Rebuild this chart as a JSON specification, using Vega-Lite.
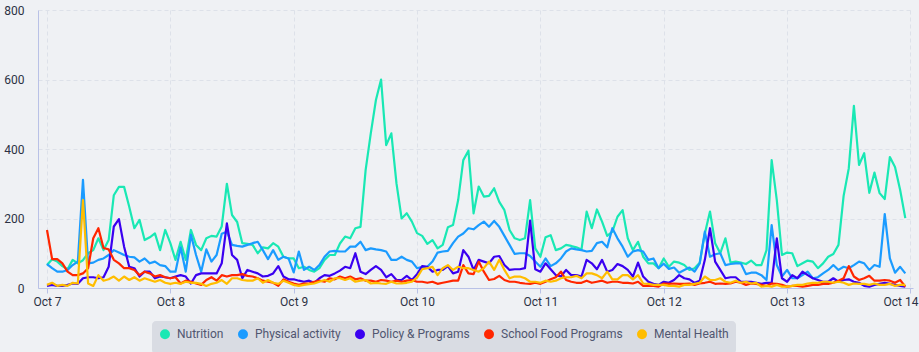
{
"$schema":"https://vega.github.io/schema/vega-lite/v6.json",
"width":875,"height":278,
"autosize":{"type":"none"},
"padding":{"left":38,"top":10,"right":6,"bottom":64},
"background":"#eff1f4",
"config":{"view":{"stroke":null},"font":"Roboto"},
"datasets":{
"nutrition":[
{"t":"2024-10-07T00:00","v":66},{"t":"2024-10-07T01:00","v":83},{"t":"2024-10-07T02:00","v":76},{"t":"2024-10-07T03:00","v":63},{"t":"2024-10-07T04:00","v":54},{"t":"2024-10-07T05:00","v":81},{"t":"2024-10-07T06:00","v":71},{"t":"2024-10-07T07:00","v":80},{"t":"2024-10-07T08:00","v":100},{"t":"2024-10-07T09:00","v":109},{"t":"2024-10-07T10:00","v":143},{"t":"2024-10-07T11:00","v":109},{"t":"2024-10-07T12:00","v":138},{"t":"2024-10-07T13:00","v":267},{"t":"2024-10-07T14:00","v":291},{"t":"2024-10-07T15:00","v":291},{"t":"2024-10-07T16:00","v":234},{"t":"2024-10-07T17:00","v":172},{"t":"2024-10-07T18:00","v":196},{"t":"2024-10-07T19:00","v":138},{"t":"2024-10-07T20:00","v":146},{"t":"2024-10-07T21:00","v":157},{"t":"2024-10-07T22:00","v":109},{"t":"2024-10-07T23:00","v":167},
{"t":"2024-10-08T00:00","v":129},{"t":"2024-10-08T01:00","v":81},{"t":"2024-10-08T02:00","v":133},{"t":"2024-10-08T03:00","v":81},{"t":"2024-10-08T04:00","v":167},{"t":"2024-10-08T05:00","v":124},{"t":"2024-10-08T06:00","v":109},{"t":"2024-10-08T07:00","v":143},{"t":"2024-10-08T08:00","v":150},{"t":"2024-10-08T09:00","v":148},{"t":"2024-10-08T10:00","v":177},{"t":"2024-10-08T11:00","v":300},{"t":"2024-10-08T12:00","v":210},{"t":"2024-10-08T13:00","v":190},{"t":"2024-10-08T14:00","v":129},{"t":"2024-10-08T15:00","v":127},{"t":"2024-10-08T16:00","v":124},{"t":"2024-10-08T17:00","v":100},{"t":"2024-10-08T18:00","v":117},{"t":"2024-10-08T19:00","v":114},{"t":"2024-10-08T20:00","v":129},{"t":"2024-10-08T21:00","v":119},{"t":"2024-10-08T22:00","v":90},{"t":"2024-10-08T23:00","v":85},
{"t":"2024-10-09T00:00","v":85},{"t":"2024-10-09T01:00","v":57},{"t":"2024-10-09T02:00","v":61},{"t":"2024-10-09T03:00","v":52},{"t":"2024-10-09T04:00","v":47},{"t":"2024-10-09T05:00","v":57},{"t":"2024-10-09T06:00","v":81},{"t":"2024-10-09T07:00","v":95},{"t":"2024-10-09T08:00","v":95},{"t":"2024-10-09T09:00","v":128},{"t":"2024-10-09T10:00","v":148},{"t":"2024-10-09T11:00","v":143},{"t":"2024-10-09T12:00","v":172},{"t":"2024-10-09T13:00","v":176},{"t":"2024-10-09T14:00","v":340},{"t":"2024-10-09T15:00","v":445},{"t":"2024-10-09T16:00","v":541},{"t":"2024-10-09T17:00","v":600},{"t":"2024-10-09T18:00","v":411},{"t":"2024-10-09T19:00","v":445},{"t":"2024-10-09T20:00","v":301},{"t":"2024-10-09T21:00","v":200},{"t":"2024-10-09T22:00","v":215},{"t":"2024-10-09T23:00","v":191},
{"t":"2024-10-10T00:00","v":158},{"t":"2024-10-10T01:00","v":150},{"t":"2024-10-10T02:00","v":127},{"t":"2024-10-10T03:00","v":138},{"t":"2024-10-10T04:00","v":114},{"t":"2024-10-10T05:00","v":124},{"t":"2024-10-10T06:00","v":175},{"t":"2024-10-10T07:00","v":181},{"t":"2024-10-10T08:00","v":253},{"t":"2024-10-10T09:00","v":368},{"t":"2024-10-10T10:00","v":395},{"t":"2024-10-10T11:00","v":215},{"t":"2024-10-10T12:00","v":292},{"t":"2024-10-10T13:00","v":263},{"t":"2024-10-10T14:00","v":265},{"t":"2024-10-10T15:00","v":287},{"t":"2024-10-10T16:00","v":248},{"t":"2024-10-10T17:00","v":224},{"t":"2024-10-10T18:00","v":167},{"t":"2024-10-10T19:00","v":143},{"t":"2024-10-10T20:00","v":138},{"t":"2024-10-10T21:00","v":143},{"t":"2024-10-10T22:00","v":253},{"t":"2024-10-10T23:00","v":114},
{"t":"2024-10-11T00:00","v":90},{"t":"2024-10-11T01:00","v":146},{"t":"2024-10-11T02:00","v":152},{"t":"2024-10-11T03:00","v":109},{"t":"2024-10-11T04:00","v":114},{"t":"2024-10-11T05:00","v":124},{"t":"2024-10-11T06:00","v":121},{"t":"2024-10-11T07:00","v":117},{"t":"2024-10-11T08:00","v":111},{"t":"2024-10-11T09:00","v":220},{"t":"2024-10-11T10:00","v":172},{"t":"2024-10-11T11:00","v":226},{"t":"2024-10-11T12:00","v":191},{"t":"2024-10-11T13:00","v":150},{"t":"2024-10-11T14:00","v":162},{"t":"2024-10-11T15:00","v":205},{"t":"2024-10-11T16:00","v":224},{"t":"2024-10-11T17:00","v":143},{"t":"2024-10-11T18:00","v":109},{"t":"2024-10-11T19:00","v":133},{"t":"2024-10-11T20:00","v":90},{"t":"2024-10-11T21:00","v":71},{"t":"2024-10-11T22:00","v":71},{"t":"2024-10-11T23:00","v":57},
{"t":"2024-10-12T00:00","v":85},{"t":"2024-10-12T01:00","v":61},{"t":"2024-10-12T02:00","v":76},{"t":"2024-10-12T03:00","v":73},{"t":"2024-10-12T04:00","v":66},{"t":"2024-10-12T05:00","v":52},{"t":"2024-10-12T06:00","v":57},{"t":"2024-10-12T07:00","v":73},{"t":"2024-10-12T08:00","v":157},{"t":"2024-10-12T09:00","v":220},{"t":"2024-10-12T10:00","v":129},{"t":"2024-10-12T11:00","v":100},{"t":"2024-10-12T12:00","v":143},{"t":"2024-10-12T13:00","v":73},{"t":"2024-10-12T14:00","v":76},{"t":"2024-10-12T15:00","v":73},{"t":"2024-10-12T16:00","v":69},{"t":"2024-10-12T17:00","v":79},{"t":"2024-10-12T18:00","v":66},{"t":"2024-10-12T19:00","v":66},{"t":"2024-10-12T20:00","v":109},{"t":"2024-10-12T21:00","v":368},{"t":"2024-10-12T22:00","v":253},{"t":"2024-10-12T23:00","v":95},
{"t":"2024-10-13T00:00","v":102},{"t":"2024-10-13T01:00","v":100},{"t":"2024-10-13T02:00","v":63},{"t":"2024-10-13T03:00","v":71},{"t":"2024-10-13T04:00","v":79},{"t":"2024-10-13T05:00","v":76},{"t":"2024-10-13T06:00","v":57},{"t":"2024-10-13T07:00","v":71},{"t":"2024-10-13T08:00","v":90},{"t":"2024-10-13T09:00","v":98},{"t":"2024-10-13T10:00","v":124},{"t":"2024-10-13T11:00","v":265},{"t":"2024-10-13T12:00","v":344},{"t":"2024-10-13T13:00","v":524},{"t":"2024-10-13T14:00","v":354},{"t":"2024-10-13T15:00","v":388},{"t":"2024-10-13T16:00","v":274},{"t":"2024-10-13T17:00","v":332},{"t":"2024-10-13T18:00","v":273},{"t":"2024-10-13T19:00","v":256},{"t":"2024-10-13T20:00","v":377},{"t":"2024-10-13T21:00","v":348},{"t":"2024-10-13T22:00","v":282},{"t":"2024-10-13T23:00","v":201}
],
"physical":[
{"t":"2024-10-07T00:00","v":69},{"t":"2024-10-07T01:00","v":57},{"t":"2024-10-07T02:00","v":47},{"t":"2024-10-07T03:00","v":47},{"t":"2024-10-07T04:00","v":52},{"t":"2024-10-07T05:00","v":66},{"t":"2024-10-07T06:00","v":76},{"t":"2024-10-07T07:00","v":311},{"t":"2024-10-07T08:00","v":71},{"t":"2024-10-07T09:00","v":73},{"t":"2024-10-07T10:00","v":81},{"t":"2024-10-07T11:00","v":85},{"t":"2024-10-07T12:00","v":95},{"t":"2024-10-07T13:00","v":109},{"t":"2024-10-07T14:00","v":102},{"t":"2024-10-07T15:00","v":95},{"t":"2024-10-07T16:00","v":90},{"t":"2024-10-07T17:00","v":88},{"t":"2024-10-07T18:00","v":76},{"t":"2024-10-07T19:00","v":85},{"t":"2024-10-07T20:00","v":71},{"t":"2024-10-07T21:00","v":76},{"t":"2024-10-07T22:00","v":66},{"t":"2024-10-07T23:00","v":63},
{"t":"2024-10-08T00:00","v":47},{"t":"2024-10-08T01:00","v":47},{"t":"2024-10-08T02:00","v":117},{"t":"2024-10-08T03:00","v":47},{"t":"2024-10-08T04:00","v":153},{"t":"2024-10-08T05:00","v":95},{"t":"2024-10-08T06:00","v":47},{"t":"2024-10-08T07:00","v":111},{"t":"2024-10-08T08:00","v":76},{"t":"2024-10-08T09:00","v":95},{"t":"2024-10-08T10:00","v":156},{"t":"2024-10-08T11:00","v":162},{"t":"2024-10-08T12:00","v":124},{"t":"2024-10-08T13:00","v":121},{"t":"2024-10-08T14:00","v":119},{"t":"2024-10-08T15:00","v":124},{"t":"2024-10-08T16:00","v":129},{"t":"2024-10-08T17:00","v":133},{"t":"2024-10-08T18:00","v":109},{"t":"2024-10-08T19:00","v":83},{"t":"2024-10-08T20:00","v":109},{"t":"2024-10-08T21:00","v":81},{"t":"2024-10-08T22:00","v":90},{"t":"2024-10-08T23:00","v":85},
{"t":"2024-10-09T00:00","v":45},{"t":"2024-10-09T01:00","v":105},{"t":"2024-10-09T02:00","v":52},{"t":"2024-10-09T03:00","v":61},{"t":"2024-10-09T04:00","v":52},{"t":"2024-10-09T05:00","v":66},{"t":"2024-10-09T06:00","v":90},{"t":"2024-10-09T07:00","v":105},{"t":"2024-10-09T08:00","v":107},{"t":"2024-10-09T09:00","v":105},{"t":"2024-10-09T10:00","v":105},{"t":"2024-10-09T11:00","v":119},{"t":"2024-10-09T12:00","v":119},{"t":"2024-10-09T13:00","v":133},{"t":"2024-10-09T14:00","v":109},{"t":"2024-10-09T15:00","v":114},{"t":"2024-10-09T16:00","v":111},{"t":"2024-10-09T17:00","v":109},{"t":"2024-10-09T18:00","v":105},{"t":"2024-10-09T19:00","v":81},{"t":"2024-10-09T20:00","v":81},{"t":"2024-10-09T21:00","v":90},{"t":"2024-10-09T22:00","v":81},{"t":"2024-10-09T23:00","v":76},
{"t":"2024-10-10T00:00","v":57},{"t":"2024-10-10T01:00","v":61},{"t":"2024-10-10T02:00","v":61},{"t":"2024-10-10T03:00","v":76},{"t":"2024-10-10T04:00","v":102},{"t":"2024-10-10T05:00","v":105},{"t":"2024-10-10T06:00","v":107},{"t":"2024-10-10T07:00","v":129},{"t":"2024-10-10T08:00","v":148},{"t":"2024-10-10T09:00","v":157},{"t":"2024-10-10T10:00","v":172},{"t":"2024-10-10T11:00","v":169},{"t":"2024-10-10T12:00","v":181},{"t":"2024-10-10T13:00","v":191},{"t":"2024-10-10T14:00","v":176},{"t":"2024-10-10T15:00","v":193},{"t":"2024-10-10T16:00","v":176},{"t":"2024-10-10T17:00","v":150},{"t":"2024-10-10T18:00","v":124},{"t":"2024-10-10T19:00","v":98},{"t":"2024-10-10T20:00","v":100},{"t":"2024-10-10T21:00","v":100},{"t":"2024-10-10T22:00","v":92},{"t":"2024-10-10T23:00","v":76},
{"t":"2024-10-11T00:00","v":61},{"t":"2024-10-11T01:00","v":85},{"t":"2024-10-11T02:00","v":63},{"t":"2024-10-11T03:00","v":71},{"t":"2024-10-11T04:00","v":85},{"t":"2024-10-11T05:00","v":105},{"t":"2024-10-11T06:00","v":114},{"t":"2024-10-11T07:00","v":111},{"t":"2024-10-11T08:00","v":109},{"t":"2024-10-11T09:00","v":105},{"t":"2024-10-11T10:00","v":107},{"t":"2024-10-11T11:00","v":129},{"t":"2024-10-11T12:00","v":133},{"t":"2024-10-11T13:00","v":117},{"t":"2024-10-11T14:00","v":172},{"t":"2024-10-11T15:00","v":143},{"t":"2024-10-11T16:00","v":119},{"t":"2024-10-11T17:00","v":90},{"t":"2024-10-11T18:00","v":105},{"t":"2024-10-11T19:00","v":109},{"t":"2024-10-11T20:00","v":105},{"t":"2024-10-11T21:00","v":81},{"t":"2024-10-11T22:00","v":85},{"t":"2024-10-11T23:00","v":57},
{"t":"2024-10-12T00:00","v":70},{"t":"2024-10-12T01:00","v":55},{"t":"2024-10-12T02:00","v":59},{"t":"2024-10-12T03:00","v":44},{"t":"2024-10-12T04:00","v":52},{"t":"2024-10-12T05:00","v":59},{"t":"2024-10-12T06:00","v":47},{"t":"2024-10-12T07:00","v":71},{"t":"2024-10-12T08:00","v":162},{"t":"2024-10-12T09:00","v":90},{"t":"2024-10-12T10:00","v":97},{"t":"2024-10-12T11:00","v":100},{"t":"2024-10-12T12:00","v":66},{"t":"2024-10-12T13:00","v":69},{"t":"2024-10-12T14:00","v":71},{"t":"2024-10-12T15:00","v":71},{"t":"2024-10-12T16:00","v":40},{"t":"2024-10-12T17:00","v":44},{"t":"2024-10-12T18:00","v":44},{"t":"2024-10-12T19:00","v":37},{"t":"2024-10-12T20:00","v":23},{"t":"2024-10-12T21:00","v":181},{"t":"2024-10-12T22:00","v":66},{"t":"2024-10-12T23:00","v":33},
{"t":"2024-10-13T00:00","v":52},{"t":"2024-10-13T01:00","v":28},{"t":"2024-10-13T02:00","v":28},{"t":"2024-10-13T03:00","v":37},{"t":"2024-10-13T04:00","v":47},{"t":"2024-10-13T05:00","v":28},{"t":"2024-10-13T06:00","v":31},{"t":"2024-10-13T07:00","v":42},{"t":"2024-10-13T08:00","v":52},{"t":"2024-10-13T09:00","v":66},{"t":"2024-10-13T10:00","v":52},{"t":"2024-10-13T11:00","v":61},{"t":"2024-10-13T12:00","v":57},{"t":"2024-10-13T13:00","v":66},{"t":"2024-10-13T14:00","v":76},{"t":"2024-10-13T15:00","v":71},{"t":"2024-10-13T16:00","v":52},{"t":"2024-10-13T17:00","v":66},{"t":"2024-10-13T18:00","v":61},{"t":"2024-10-13T19:00","v":213},{"t":"2024-10-13T20:00","v":85},{"t":"2024-10-13T21:00","v":44},{"t":"2024-10-13T22:00","v":61},{"t":"2024-10-13T23:00","v":42}
],
"policy":[
{"t":"2024-10-07T00:00","v":6},{"t":"2024-10-07T01:00","v":9},{"t":"2024-10-07T02:00","v":6},{"t":"2024-10-07T03:00","v":6},{"t":"2024-10-07T04:00","v":9},{"t":"2024-10-07T05:00","v":13},{"t":"2024-10-07T06:00","v":12},{"t":"2024-10-07T07:00","v":28},{"t":"2024-10-07T08:00","v":31},{"t":"2024-10-07T09:00","v":31},{"t":"2024-10-07T10:00","v":28},{"t":"2024-10-07T11:00","v":31},{"t":"2024-10-07T12:00","v":61},{"t":"2024-10-07T13:00","v":177},{"t":"2024-10-07T14:00","v":198},{"t":"2024-10-07T15:00","v":119},{"t":"2024-10-07T16:00","v":61},{"t":"2024-10-07T17:00","v":57},{"t":"2024-10-07T18:00","v":33},{"t":"2024-10-07T19:00","v":47},{"t":"2024-10-07T20:00","v":47},{"t":"2024-10-07T21:00","v":28},{"t":"2024-10-07T22:00","v":33},{"t":"2024-10-07T23:00","v":31},
{"t":"2024-10-08T00:00","v":28},{"t":"2024-10-08T01:00","v":33},{"t":"2024-10-08T02:00","v":37},{"t":"2024-10-08T03:00","v":33},{"t":"2024-10-08T04:00","v":13},{"t":"2024-10-08T05:00","v":37},{"t":"2024-10-08T06:00","v":42},{"t":"2024-10-08T07:00","v":42},{"t":"2024-10-08T08:00","v":42},{"t":"2024-10-08T09:00","v":42},{"t":"2024-10-08T10:00","v":71},{"t":"2024-10-08T11:00","v":186},{"t":"2024-10-08T12:00","v":95},{"t":"2024-10-08T13:00","v":81},{"t":"2024-10-08T14:00","v":28},{"t":"2024-10-08T15:00","v":52},{"t":"2024-10-08T16:00","v":47},{"t":"2024-10-08T17:00","v":42},{"t":"2024-10-08T18:00","v":33},{"t":"2024-10-08T19:00","v":35},{"t":"2024-10-08T20:00","v":42},{"t":"2024-10-08T21:00","v":63},{"t":"2024-10-08T22:00","v":33},{"t":"2024-10-08T23:00","v":25},
{"t":"2024-10-09T00:00","v":25},{"t":"2024-10-09T01:00","v":21},{"t":"2024-10-09T02:00","v":18},{"t":"2024-10-09T03:00","v":21},{"t":"2024-10-09T04:00","v":15},{"t":"2024-10-09T05:00","v":28},{"t":"2024-10-09T06:00","v":37},{"t":"2024-10-09T07:00","v":35},{"t":"2024-10-09T08:00","v":42},{"t":"2024-10-09T09:00","v":50},{"t":"2024-10-09T10:00","v":61},{"t":"2024-10-09T11:00","v":57},{"t":"2024-10-09T12:00","v":100},{"t":"2024-10-09T13:00","v":47},{"t":"2024-10-09T14:00","v":40},{"t":"2024-10-09T15:00","v":52},{"t":"2024-10-09T16:00","v":63},{"t":"2024-10-09T17:00","v":52},{"t":"2024-10-09T18:00","v":31},{"t":"2024-10-09T19:00","v":40},{"t":"2024-10-09T20:00","v":23},{"t":"2024-10-09T21:00","v":23},{"t":"2024-10-09T22:00","v":35},{"t":"2024-10-09T23:00","v":23},
{"t":"2024-10-10T00:00","v":40},{"t":"2024-10-10T01:00","v":63},{"t":"2024-10-10T02:00","v":61},{"t":"2024-10-10T03:00","v":47},{"t":"2024-10-10T04:00","v":52},{"t":"2024-10-10T05:00","v":52},{"t":"2024-10-10T06:00","v":63},{"t":"2024-10-10T07:00","v":42},{"t":"2024-10-10T08:00","v":47},{"t":"2024-10-10T09:00","v":109},{"t":"2024-10-10T10:00","v":90},{"t":"2024-10-10T11:00","v":52},{"t":"2024-10-10T12:00","v":81},{"t":"2024-10-10T13:00","v":76},{"t":"2024-10-10T14:00","v":71},{"t":"2024-10-10T15:00","v":90},{"t":"2024-10-10T16:00","v":92},{"t":"2024-10-10T17:00","v":66},{"t":"2024-10-10T18:00","v":52},{"t":"2024-10-10T19:00","v":54},{"t":"2024-10-10T20:00","v":54},{"t":"2024-10-10T21:00","v":57},{"t":"2024-10-10T22:00","v":194},{"t":"2024-10-10T23:00","v":54},
{"t":"2024-10-11T00:00","v":47},{"t":"2024-10-11T01:00","v":71},{"t":"2024-10-11T02:00","v":54},{"t":"2024-10-11T03:00","v":37},{"t":"2024-10-11T04:00","v":33},{"t":"2024-10-11T05:00","v":52},{"t":"2024-10-11T06:00","v":37},{"t":"2024-10-11T07:00","v":37},{"t":"2024-10-11T08:00","v":33},{"t":"2024-10-11T09:00","v":81},{"t":"2024-10-11T10:00","v":71},{"t":"2024-10-11T11:00","v":54},{"t":"2024-10-11T12:00","v":81},{"t":"2024-10-11T13:00","v":47},{"t":"2024-10-11T14:00","v":52},{"t":"2024-10-11T15:00","v":69},{"t":"2024-10-11T16:00","v":63},{"t":"2024-10-11T17:00","v":52},{"t":"2024-10-11T18:00","v":33},{"t":"2024-10-11T19:00","v":73},{"t":"2024-10-11T20:00","v":33},{"t":"2024-10-11T21:00","v":18},{"t":"2024-10-11T22:00","v":12},{"t":"2024-10-11T23:00","v":9},
{"t":"2024-10-12T00:00","v":18},{"t":"2024-10-12T01:00","v":15},{"t":"2024-10-12T02:00","v":23},{"t":"2024-10-12T03:00","v":37},{"t":"2024-10-12T04:00","v":28},{"t":"2024-10-12T05:00","v":25},{"t":"2024-10-12T06:00","v":15},{"t":"2024-10-12T07:00","v":21},{"t":"2024-10-12T08:00","v":81},{"t":"2024-10-12T09:00","v":172},{"t":"2024-10-12T10:00","v":76},{"t":"2024-10-12T11:00","v":52},{"t":"2024-10-12T12:00","v":28},{"t":"2024-10-12T13:00","v":31},{"t":"2024-10-12T14:00","v":31},{"t":"2024-10-12T15:00","v":18},{"t":"2024-10-12T16:00","v":18},{"t":"2024-10-12T17:00","v":18},{"t":"2024-10-12T18:00","v":15},{"t":"2024-10-12T19:00","v":12},{"t":"2024-10-12T20:00","v":15},{"t":"2024-10-12T21:00","v":15},{"t":"2024-10-12T22:00","v":143},{"t":"2024-10-12T23:00","v":28},
{"t":"2024-10-13T00:00","v":18},{"t":"2024-10-13T01:00","v":37},{"t":"2024-10-13T02:00","v":28},{"t":"2024-10-13T03:00","v":47},{"t":"2024-10-13T04:00","v":37},{"t":"2024-10-13T05:00","v":28},{"t":"2024-10-13T06:00","v":23},{"t":"2024-10-13T07:00","v":18},{"t":"2024-10-13T08:00","v":18},{"t":"2024-10-13T09:00","v":28},{"t":"2024-10-13T10:00","v":18},{"t":"2024-10-13T11:00","v":23},{"t":"2024-10-13T12:00","v":25},{"t":"2024-10-13T13:00","v":18},{"t":"2024-10-13T14:00","v":15},{"t":"2024-10-13T15:00","v":6},{"t":"2024-10-13T16:00","v":4},{"t":"2024-10-13T17:00","v":9},{"t":"2024-10-13T18:00","v":12},{"t":"2024-10-13T19:00","v":15},{"t":"2024-10-13T20:00","v":12},{"t":"2024-10-13T21:00","v":9},{"t":"2024-10-13T22:00","v":6},{"t":"2024-10-13T23:00","v":4}
],
"school":[
{"t":"2024-10-07T00:00","v":167},{"t":"2024-10-07T01:00","v":83},{"t":"2024-10-07T02:00","v":83},{"t":"2024-10-07T03:00","v":71},{"t":"2024-10-07T04:00","v":47},{"t":"2024-10-07T05:00","v":37},{"t":"2024-10-07T06:00","v":37},{"t":"2024-10-07T07:00","v":42},{"t":"2024-10-07T08:00","v":57},{"t":"2024-10-07T09:00","v":143},{"t":"2024-10-07T10:00","v":172},{"t":"2024-10-07T11:00","v":115},{"t":"2024-10-07T12:00","v":111},{"t":"2024-10-07T13:00","v":81},{"t":"2024-10-07T14:00","v":71},{"t":"2024-10-07T15:00","v":57},{"t":"2024-10-07T16:00","v":57},{"t":"2024-10-07T17:00","v":52},{"t":"2024-10-07T18:00","v":37},{"t":"2024-10-07T19:00","v":47},{"t":"2024-10-07T20:00","v":42},{"t":"2024-10-07T21:00","v":33},{"t":"2024-10-07T22:00","v":37},{"t":"2024-10-07T23:00","v":31},
{"t":"2024-10-08T00:00","v":28},{"t":"2024-10-08T01:00","v":31},{"t":"2024-10-08T02:00","v":13},{"t":"2024-10-08T03:00","v":21},{"t":"2024-10-08T04:00","v":18},{"t":"2024-10-08T05:00","v":13},{"t":"2024-10-08T06:00","v":9},{"t":"2024-10-08T07:00","v":23},{"t":"2024-10-08T08:00","v":31},{"t":"2024-10-08T09:00","v":21},{"t":"2024-10-08T10:00","v":37},{"t":"2024-10-08T11:00","v":33},{"t":"2024-10-08T12:00","v":37},{"t":"2024-10-08T13:00","v":37},{"t":"2024-10-08T14:00","v":40},{"t":"2024-10-08T15:00","v":35},{"t":"2024-10-08T16:00","v":33},{"t":"2024-10-08T17:00","v":28},{"t":"2024-10-08T18:00","v":21},{"t":"2024-10-08T19:00","v":18},{"t":"2024-10-08T20:00","v":15},{"t":"2024-10-08T21:00","v":6},{"t":"2024-10-08T22:00","v":25},{"t":"2024-10-08T23:00","v":18},
{"t":"2024-10-09T00:00","v":13},{"t":"2024-10-09T01:00","v":9},{"t":"2024-10-09T02:00","v":13},{"t":"2024-10-09T03:00","v":13},{"t":"2024-10-09T04:00","v":18},{"t":"2024-10-09T05:00","v":21},{"t":"2024-10-09T06:00","v":18},{"t":"2024-10-09T07:00","v":28},{"t":"2024-10-09T08:00","v":25},{"t":"2024-10-09T09:00","v":33},{"t":"2024-10-09T10:00","v":28},{"t":"2024-10-09T11:00","v":33},{"t":"2024-10-09T12:00","v":25},{"t":"2024-10-09T13:00","v":28},{"t":"2024-10-09T14:00","v":21},{"t":"2024-10-09T15:00","v":21},{"t":"2024-10-09T16:00","v":18},{"t":"2024-10-09T17:00","v":23},{"t":"2024-10-09T18:00","v":21},{"t":"2024-10-09T19:00","v":18},{"t":"2024-10-09T20:00","v":21},{"t":"2024-10-09T21:00","v":18},{"t":"2024-10-09T22:00","v":21},{"t":"2024-10-09T23:00","v":23},
{"t":"2024-10-10T00:00","v":18},{"t":"2024-10-10T01:00","v":18},{"t":"2024-10-10T02:00","v":15},{"t":"2024-10-10T03:00","v":18},{"t":"2024-10-10T04:00","v":12},{"t":"2024-10-10T05:00","v":15},{"t":"2024-10-10T06:00","v":18},{"t":"2024-10-10T07:00","v":21},{"t":"2024-10-10T08:00","v":21},{"t":"2024-10-10T09:00","v":66},{"t":"2024-10-10T10:00","v":42},{"t":"2024-10-10T11:00","v":40},{"t":"2024-10-10T12:00","v":76},{"t":"2024-10-10T13:00","v":47},{"t":"2024-10-10T14:00","v":23},{"t":"2024-10-10T15:00","v":26},{"t":"2024-10-10T16:00","v":35},{"t":"2024-10-10T17:00","v":23},{"t":"2024-10-10T18:00","v":18},{"t":"2024-10-10T19:00","v":18},{"t":"2024-10-10T20:00","v":15},{"t":"2024-10-10T21:00","v":13},{"t":"2024-10-10T22:00","v":12},{"t":"2024-10-10T23:00","v":15},
{"t":"2024-10-11T00:00","v":12},{"t":"2024-10-11T01:00","v":18},{"t":"2024-10-11T02:00","v":25},{"t":"2024-10-11T03:00","v":31},{"t":"2024-10-11T04:00","v":47},{"t":"2024-10-11T05:00","v":23},{"t":"2024-10-11T06:00","v":18},{"t":"2024-10-11T07:00","v":15},{"t":"2024-10-11T08:00","v":15},{"t":"2024-10-11T09:00","v":21},{"t":"2024-10-11T10:00","v":15},{"t":"2024-10-11T11:00","v":18},{"t":"2024-10-11T12:00","v":21},{"t":"2024-10-11T13:00","v":15},{"t":"2024-10-11T14:00","v":18},{"t":"2024-10-11T15:00","v":18},{"t":"2024-10-11T16:00","v":15},{"t":"2024-10-11T17:00","v":15},{"t":"2024-10-11T18:00","v":13},{"t":"2024-10-11T19:00","v":18},{"t":"2024-10-11T20:00","v":6},{"t":"2024-10-11T21:00","v":6},{"t":"2024-10-11T22:00","v":6},{"t":"2024-10-11T23:00","v":4},
{"t":"2024-10-12T00:00","v":13},{"t":"2024-10-12T01:00","v":12},{"t":"2024-10-12T02:00","v":13},{"t":"2024-10-12T03:00","v":12},{"t":"2024-10-12T04:00","v":12},{"t":"2024-10-12T05:00","v":13},{"t":"2024-10-12T06:00","v":9},{"t":"2024-10-12T07:00","v":13},{"t":"2024-10-12T08:00","v":15},{"t":"2024-10-12T09:00","v":18},{"t":"2024-10-12T10:00","v":12},{"t":"2024-10-12T11:00","v":13},{"t":"2024-10-12T12:00","v":12},{"t":"2024-10-12T13:00","v":13},{"t":"2024-10-12T14:00","v":18},{"t":"2024-10-12T15:00","v":15},{"t":"2024-10-12T16:00","v":9},{"t":"2024-10-12T17:00","v":13},{"t":"2024-10-12T18:00","v":12},{"t":"2024-10-12T19:00","v":9},{"t":"2024-10-12T20:00","v":6},{"t":"2024-10-12T21:00","v":13},{"t":"2024-10-12T22:00","v":12},{"t":"2024-10-12T23:00","v":9},
{"t":"2024-10-13T00:00","v":4},{"t":"2024-10-13T01:00","v":6},{"t":"2024-10-13T02:00","v":6},{"t":"2024-10-13T03:00","v":4},{"t":"2024-10-13T04:00","v":6},{"t":"2024-10-13T05:00","v":9},{"t":"2024-10-13T06:00","v":9},{"t":"2024-10-13T07:00","v":12},{"t":"2024-10-13T08:00","v":12},{"t":"2024-10-13T09:00","v":15},{"t":"2024-10-13T10:00","v":21},{"t":"2024-10-13T11:00","v":28},{"t":"2024-10-13T12:00","v":63},{"t":"2024-10-13T13:00","v":33},{"t":"2024-10-13T14:00","v":23},{"t":"2024-10-13T15:00","v":28},{"t":"2024-10-13T16:00","v":35},{"t":"2024-10-13T17:00","v":21},{"t":"2024-10-13T18:00","v":21},{"t":"2024-10-13T19:00","v":23},{"t":"2024-10-13T20:00","v":21},{"t":"2024-10-13T21:00","v":15},{"t":"2024-10-13T22:00","v":23},{"t":"2024-10-13T23:00","v":4}
],
"mental":[
{"t":"2024-10-07T00:00","v":9},{"t":"2024-10-07T01:00","v":15},{"t":"2024-10-07T02:00","v":6},{"t":"2024-10-07T03:00","v":9},{"t":"2024-10-07T04:00","v":6},{"t":"2024-10-07T05:00","v":15},{"t":"2024-10-07T06:00","v":13},{"t":"2024-10-07T07:00","v":253},{"t":"2024-10-07T08:00","v":13},{"t":"2024-10-07T09:00","v":6},{"t":"2024-10-07T10:00","v":37},{"t":"2024-10-07T11:00","v":21},{"t":"2024-10-07T12:00","v":25},{"t":"2024-10-07T13:00","v":33},{"t":"2024-10-07T14:00","v":21},{"t":"2024-10-07T15:00","v":33},{"t":"2024-10-07T16:00","v":23},{"t":"2024-10-07T17:00","v":31},{"t":"2024-10-07T18:00","v":21},{"t":"2024-10-07T19:00","v":28},{"t":"2024-10-07T20:00","v":23},{"t":"2024-10-07T21:00","v":18},{"t":"2024-10-07T22:00","v":23},{"t":"2024-10-07T23:00","v":15},
{"t":"2024-10-08T00:00","v":12},{"t":"2024-10-08T01:00","v":15},{"t":"2024-10-08T02:00","v":12},{"t":"2024-10-08T03:00","v":18},{"t":"2024-10-08T04:00","v":15},{"t":"2024-10-08T05:00","v":15},{"t":"2024-10-08T06:00","v":12},{"t":"2024-10-08T07:00","v":6},{"t":"2024-10-08T08:00","v":12},{"t":"2024-10-08T09:00","v":15},{"t":"2024-10-08T10:00","v":23},{"t":"2024-10-08T11:00","v":12},{"t":"2024-10-08T12:00","v":28},{"t":"2024-10-08T13:00","v":28},{"t":"2024-10-08T14:00","v":23},{"t":"2024-10-08T15:00","v":21},{"t":"2024-10-08T16:00","v":21},{"t":"2024-10-08T17:00","v":28},{"t":"2024-10-08T18:00","v":15},{"t":"2024-10-08T19:00","v":23},{"t":"2024-10-08T20:00","v":15},{"t":"2024-10-08T21:00","v":12},{"t":"2024-10-08T22:00","v":21},{"t":"2024-10-08T23:00","v":15},
{"t":"2024-10-09T00:00","v":9},{"t":"2024-10-09T01:00","v":6},{"t":"2024-10-09T02:00","v":9},{"t":"2024-10-09T03:00","v":11},{"t":"2024-10-09T04:00","v":13},{"t":"2024-10-09T05:00","v":18},{"t":"2024-10-09T06:00","v":23},{"t":"2024-10-09T07:00","v":18},{"t":"2024-10-09T08:00","v":28},{"t":"2024-10-09T09:00","v":28},{"t":"2024-10-09T10:00","v":23},{"t":"2024-10-09T11:00","v":28},{"t":"2024-10-09T12:00","v":18},{"t":"2024-10-09T13:00","v":21},{"t":"2024-10-09T14:00","v":23},{"t":"2024-10-09T15:00","v":13},{"t":"2024-10-09T16:00","v":15},{"t":"2024-10-09T17:00","v":13},{"t":"2024-10-09T18:00","v":12},{"t":"2024-10-09T19:00","v":18},{"t":"2024-10-09T20:00","v":13},{"t":"2024-10-09T21:00","v":13},{"t":"2024-10-09T22:00","v":15},{"t":"2024-10-09T23:00","v":18},
{"t":"2024-10-10T00:00","v":30},{"t":"2024-10-10T01:00","v":54},{"t":"2024-10-10T02:00","v":57},{"t":"2024-10-10T03:00","v":61},{"t":"2024-10-10T04:00","v":37},{"t":"2024-10-10T05:00","v":57},{"t":"2024-10-10T06:00","v":66},{"t":"2024-10-10T07:00","v":52},{"t":"2024-10-10T08:00","v":61},{"t":"2024-10-10T09:00","v":57},{"t":"2024-10-10T10:00","v":57},{"t":"2024-10-10T11:00","v":52},{"t":"2024-10-10T12:00","v":47},{"t":"2024-10-10T13:00","v":57},{"t":"2024-10-10T14:00","v":76},{"t":"2024-10-10T15:00","v":52},{"t":"2024-10-10T16:00","v":81},{"t":"2024-10-10T17:00","v":52},{"t":"2024-10-10T18:00","v":28},{"t":"2024-10-10T19:00","v":33},{"t":"2024-10-10T20:00","v":33},{"t":"2024-10-10T21:00","v":28},{"t":"2024-10-10T22:00","v":18},{"t":"2024-10-10T23:00","v":18},
{"t":"2024-10-11T00:00","v":15},{"t":"2024-10-11T01:00","v":21},{"t":"2024-10-11T02:00","v":18},{"t":"2024-10-11T03:00","v":21},{"t":"2024-10-11T04:00","v":28},{"t":"2024-10-11T05:00","v":31},{"t":"2024-10-11T06:00","v":31},{"t":"2024-10-11T07:00","v":35},{"t":"2024-10-11T08:00","v":28},{"t":"2024-10-11T09:00","v":42},{"t":"2024-10-11T10:00","v":42},{"t":"2024-10-11T11:00","v":37},{"t":"2024-10-11T12:00","v":28},{"t":"2024-10-11T13:00","v":47},{"t":"2024-10-11T14:00","v":25},{"t":"2024-10-11T15:00","v":25},{"t":"2024-10-11T16:00","v":37},{"t":"2024-10-11T17:00","v":37},{"t":"2024-10-11T18:00","v":25},{"t":"2024-10-11T19:00","v":37},{"t":"2024-10-11T20:00","v":13},{"t":"2024-10-11T21:00","v":12},{"t":"2024-10-11T22:00","v":9},{"t":"2024-10-11T23:00","v":9},
{"t":"2024-10-12T00:00","v":9},{"t":"2024-10-12T01:00","v":6},{"t":"2024-10-12T02:00","v":6},{"t":"2024-10-12T03:00","v":4},{"t":"2024-10-12T04:00","v":9},{"t":"2024-10-12T05:00","v":9},{"t":"2024-10-12T06:00","v":12},{"t":"2024-10-12T07:00","v":15},{"t":"2024-10-12T08:00","v":33},{"t":"2024-10-12T09:00","v":23},{"t":"2024-10-12T10:00","v":23},{"t":"2024-10-12T11:00","v":28},{"t":"2024-10-12T12:00","v":18},{"t":"2024-10-12T13:00","v":15},{"t":"2024-10-12T14:00","v":21},{"t":"2024-10-12T15:00","v":15},{"t":"2024-10-12T16:00","v":18},{"t":"2024-10-12T17:00","v":13},{"t":"2024-10-12T18:00","v":15},{"t":"2024-10-12T19:00","v":4},{"t":"2024-10-12T20:00","v":6},{"t":"2024-10-12T21:00","v":4},{"t":"2024-10-12T22:00","v":9},{"t":"2024-10-12T23:00","v":4},
{"t":"2024-10-13T00:00","v":4},{"t":"2024-10-13T01:00","v":6},{"t":"2024-10-13T02:00","v":9},{"t":"2024-10-13T03:00","v":9},{"t":"2024-10-13T04:00","v":13},{"t":"2024-10-13T05:00","v":15},{"t":"2024-10-13T06:00","v":15},{"t":"2024-10-13T07:00","v":18},{"t":"2024-10-13T08:00","v":18},{"t":"2024-10-13T09:00","v":15},{"t":"2024-10-13T10:00","v":18},{"t":"2024-10-13T11:00","v":15},{"t":"2024-10-13T12:00","v":9},{"t":"2024-10-13T13:00","v":13},{"t":"2024-10-13T14:00","v":12},{"t":"2024-10-13T15:00","v":12},{"t":"2024-10-13T16:00","v":9},{"t":"2024-10-13T17:00","v":13},{"t":"2024-10-13T18:00","v":9},{"t":"2024-10-13T19:00","v":9},{"t":"2024-10-13T20:00","v":12},{"t":"2024-10-13T21:00","v":6},{"t":"2024-10-13T22:00","v":9},{"t":"2024-10-13T23:00","v":9}
]
},
"encoding":{
"x":{"field":"t","type":"temporal",
 "scale":{"domain":[{"year":2024,"month":10,"date":6,"hours":22,"minutes":15},{"year":2024,"month":10,"date":14,"hours":0,"minutes":30}]},
 "axis":{"title":null,"values":[{"year":2024,"month":10,"date":7},{"year":2024,"month":10,"date":8},{"year":2024,"month":10,"date":9},{"year":2024,"month":10,"date":10},{"year":2024,"month":10,"date":11},{"year":2024,"month":10,"date":12},{"year":2024,"month":10,"date":13},{"year":2024,"month":10,"date":14}],
  "format":"%b %-d","grid":true,"gridDash":[4,3],"gridColor":"#dde1e9","domainColor":"#b9c1e6","tickColor":"#b9c1e6","tickSize":5,"labelPadding":3,"labelFontSize":12,"labelFont":"Roboto","labelColor":"#2c3144",
  "labelOffset":{"condition":{"test":"datum.label == 'Oct 14'","value":-10},"value":0}}},
"y":{"field":"v","type":"quantitative","scale":{"domain":[0,800]},
 "axis":{"title":null,"values":[0,200,400,600,800],"grid":true,"gridDash":[4,3],"gridColor":"#dde1e9","domainColor":"#b9c1e6","ticks":false,"labelPadding":14,"labelFontSize":12,"labelFont":"Roboto","labelColor":"#2c3144"}}
},
"layer":[
{"data":{"name":"nutrition"},"mark":{"type":"line","strokeWidth":2.2,"strokeJoin":"round"},
 "encoding":{"color":{"datum":"Nutrition","type":"nominal",
  "scale":{"domain":["Nutrition","Physical activity","Policy & Programs","School Food Programs","Mental Health"],"range":["#19e8b4","#1a9bff","#3a00f0","#ff2600","#ffbd00"]},
  "legend":{"orient":"none","legendX":114,"legendY":311,"direction":"horizontal","title":null,"symbolType":"circle","symbolSize":25,"symbolStrokeWidth":5,"labelFontSize":12,"labelFont":"Roboto","labelColor":"#505670","columnPadding":6,"labelOffset":6,"fillColor":"#d9dce3","padding":7,"cornerRadius":4}}}},
{"data":{"name":"physical"},"mark":{"type":"line","strokeWidth":2.2,"strokeJoin":"round"},"encoding":{"color":{"datum":"Physical activity","type":"nominal"}}},
{"data":{"name":"policy"},"mark":{"type":"line","strokeWidth":2.2,"strokeJoin":"round"},"encoding":{"color":{"datum":"Policy & Programs","type":"nominal"}}},
{"data":{"name":"school"},"mark":{"type":"line","strokeWidth":2.2,"strokeJoin":"round"},"encoding":{"color":{"datum":"School Food Programs","type":"nominal"}}},
{"data":{"name":"mental"},"mark":{"type":"line","strokeWidth":2.2,"strokeJoin":"round"},"encoding":{"color":{"datum":"Mental Health","type":"nominal"}}}
]
}
